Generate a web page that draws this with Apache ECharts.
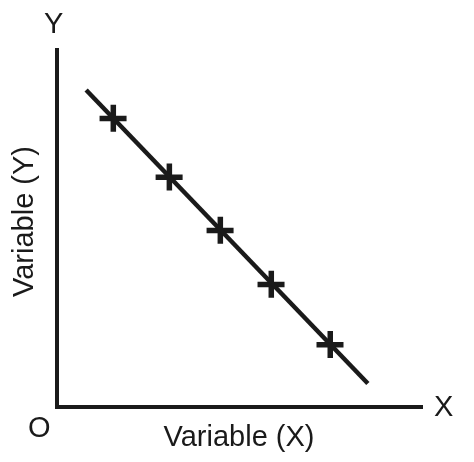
<!DOCTYPE html>
<html>
<head>
    <meta charset="utf-8">
    <title>Variable (X) / Variable (Y)</title>
    <script src="https://cdn.jsdelivr.net/npm/echarts@6/dist/echarts.min.js"></script>
    <style>
        html, body {margin: 0; padding: 0; background: #fff;}
        #chart {width: 474px; height: 462px;}
    </style>
</head>
<body>
<div id="chart"></div>
<script>
    // fitted line (two end points) and the measured points on it
    let lineX = [0.80, 8.54]
    let lineY = [8.88, 0.66]
    let pointX = [1.54, 3.08, 4.48, 5.88, 7.50]
    let pointY = [8.09, 6.44, 4.95, 3.44, 1.75]
    let axisNames = ['Variable (X)', 'Variable (Y)']

    let ink = '#1a1a1a'
    let font = '"Liberation Sans", Arial, sans-serif'
    let plus = 'path://M11,0h5.5v11h10.5v5.5h-10.5v10.5h-5.5v-10.5h-11v-5.5h11z'

    let myChart = echarts.init(document.getElementById('chart'))

    let axisCommon = {
        type: 'value',
        min: 0,
        max: 10,
        nameLocation: 'middle',
        nameTextStyle: {
            color: ink,
            fontSize: 29,
            fontFamily: font
        },
        axisLine: {
            show: true,
            lineStyle: {color: ink, width: 4, cap: 'square'}
        },
        axisTick: {show: false},
        axisLabel: {show: false},
        splitLine: {show: false}
    }

    let option = {
        animation: false,
        grid: {
            left: 57,
            right: 53,
            top: 50,
            bottom: 55
        },
        xAxis: Object.assign({}, axisCommon, {
            name: axisNames[0],
            nameGap: 16
        }),
        yAxis: Object.assign({}, axisCommon, {
            name: axisNames[1],
            nameGap: 18,
            nameTextStyle: Object.assign({}, axisCommon.nameTextStyle, {padding: [0, 0, 0, 14]})
        }),
        graphic: [
            {type: 'text', left: 44, top: 10, style: {text: 'Y', fill: ink, font: '29px ' + font}},
            {type: 'text', left: 434, top: 393, style: {text: 'X', fill: ink, font: '29px ' + font}},
            {type: 'text', left: 28, top: 414, style: {text: 'O', fill: ink, font: '29px ' + font}}
        ],
        series: [
            {
                type: 'line',
                data: lineX.map((x, i) => [x, lineY[i]]),
                symbol: 'none',
                lineStyle: {color: ink, width: 4.5}
            },
            {
                type: 'scatter',
                data: pointX.map((x, i) => [x, pointY[i]]),
                symbol: plus,
                symbolSize: 27,
                itemStyle: {color: ink, opacity: 1}
            }
        ]
    }
    myChart.setOption(option)
</script>
</body>
</html>
